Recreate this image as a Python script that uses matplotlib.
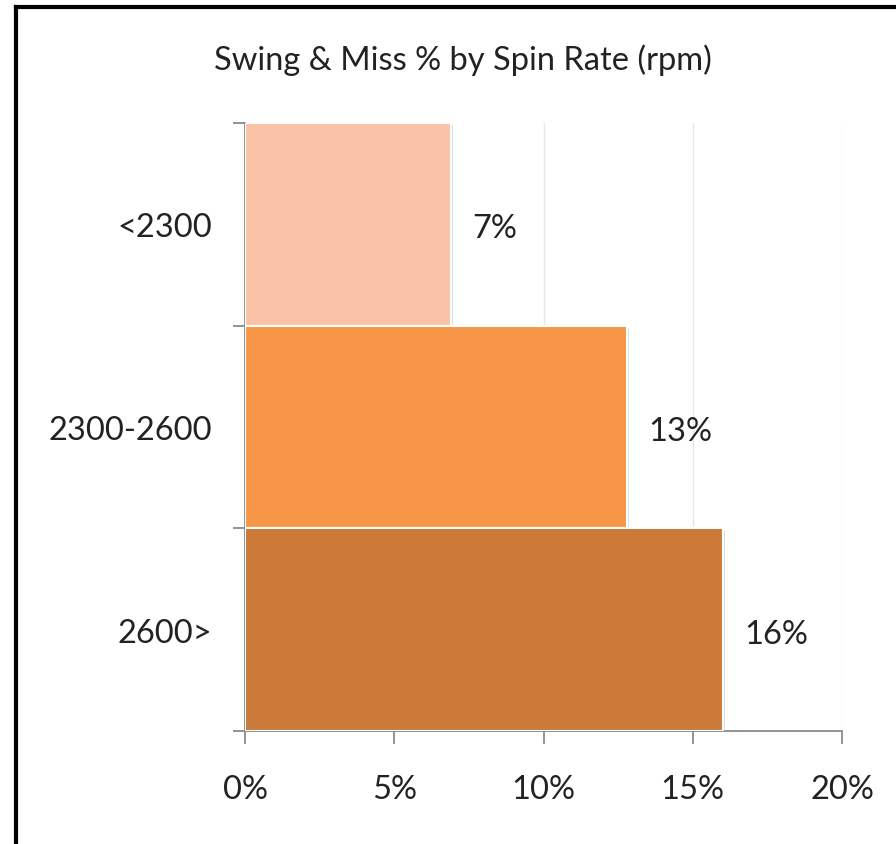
import matplotlib.pyplot as plt
from matplotlib.lines import Line2D
from matplotlib.ticker import FixedLocator, NullFormatter

categories = ['<2300', '2300-2600', '2600>']
swing_miss = [6.9, 12.8, 16.0]
bar_colors = ['#FAC3A8', '#F69646', '#CB7A39']
xticks = [0, 5, 10, 15, 20]

plt.rcParams['font.family'] = ['Lato', 'DejaVu Sans']
fs = 23.5

fig = plt.figure(figsize=(8.96, 8.45), dpi=100)
ax = fig.add_axes([245 / 896, 1 - 732 / 845, 597 / 896, 608 / 845])

# frame around the chart (only top and left visible in the crop)
fig.add_artist(Line2D([16 / 896, 16 / 896], [0, 1 - 8 / 845], transform=fig.transFigure,
                      color='black', lw=3))
fig.add_artist(Line2D([16 / 896, 1], [1 - 8 / 845, 1 - 8 / 845], transform=fig.transFigure,
                      color='black', lw=3))

ypos = list(range(len(categories)))

# soft shadow behind the bars
for y, v in zip(ypos, swing_miss):
    ax.barh(y + 0.012, v + 0.07, height=1.0, left=0, color='#9a9a9a', alpha=0.35,
            edgecolor='none', zorder=2)

ax.barh(ypos, swing_miss, height=1.0, color=bar_colors, edgecolor='white', linewidth=1.5,
        zorder=3)

for y, v in zip(ypos, swing_miss):
    ax.text(v + 0.72, y + 0.02, f'{round(v)}%', va='center', ha='left', fontsize=fs,
            color='#222222')

ax.set_xlim(0, 20)
ax.set_ylim(2.5, -0.5)
ax.set_xticks(xticks)
ax.set_xticklabels([f'{t}%' for t in xticks])
ax.set_yticks(ypos)
ax.set_yticklabels(categories)
ax.yaxis.set_minor_locator(FixedLocator([-0.5, 0.5, 1.5, 2.5]))
ax.yaxis.set_minor_formatter(NullFormatter())

ax.tick_params(axis='y', which='major', length=0, pad=24, labelsize=fs, labelcolor='#222222')
ax.tick_params(axis='y', which='minor', length=9, width=1.3, color='#8a8a8a', direction='out')
ax.tick_params(axis='x', length=9, width=1.3, color='#8a8a8a', direction='out', pad=22,
               labelsize=fs, labelcolor='#222222')

ax.grid(axis='x', color='#e6e6e6', lw=1, zorder=0)
ax.set_axisbelow(True)
for s in ['top', 'right']:
    ax.spines[s].set_visible(False)
for s in ['left', 'bottom']:
    ax.spines[s].set_color('#8a8a8a')
    ax.spines[s].set_linewidth(1.3)

fig.text(463 / 896, 1 - 60 / 845, 'Swing & Miss % by Spin Rate (rpm)', ha='center', va='center',
         fontsize=fs, color='#222222')

fig.savefig('out.png', dpi=100)
